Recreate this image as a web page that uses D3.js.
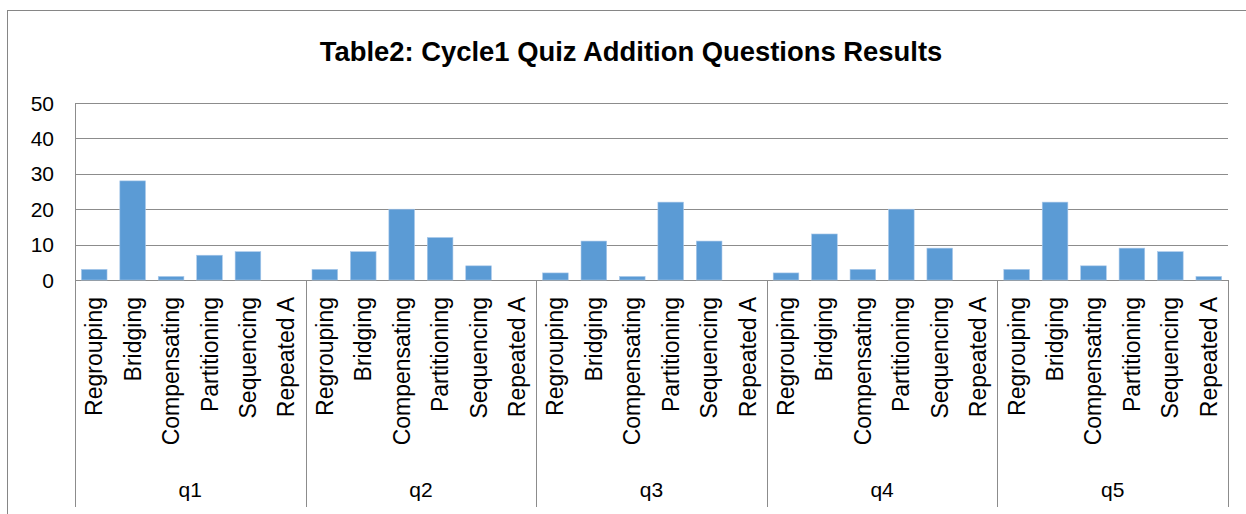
<!DOCTYPE html>
<html>
<head>
<meta charset="utf-8">
<script src="https://cdn.jsdelivr.net/npm/d3@7"></script>
<style>
  body { margin: 0; background: #fff; }
  text { font-family: "Liberation Sans", Arial, sans-serif; fill: #000; }
</style>
</head>
<body>
<svg id="chart" width="1246" height="514"></svg>
<script>
var groups = ["q1", "q2", "q3", "q4", "q5"];
var strategies = ["Regrouping", "Bridging", "Compensating", "Partitioning", "Sequencing", "Repeated A"];
var q1 = [3, 28, 1, 7, 8, 0];
var q2 = [3, 8, 20, 12, 4, 0];
var q3 = [2, 11, 1, 22, 11, 0];
var q4 = [2, 13, 3, 20, 9, 0];
var q5 = [3, 22, 4, 9, 8, 1];
var yTicks = [0, 10, 20, 30, 40, 50];
var title = "Table2: Cycle1 Quiz Addition Questions Results";

var series = [q1, q2, q3, q4, q5];
var rows = [];
groups.forEach(function (g, gi) {
    strategies.forEach(function (s, si) {
        rows.push({ key: g + "|" + s, group: g, name: s, value: series[gi][si] });
    });
});

var svg = d3.select("#chart");
var pLeft = 75, pRight = 1228, pTop = 103, pBottom = 280, axisBottom = 507;

// outer border
svg.append("rect")
    .attr("x", 7.5).attr("y", 10.5)
    .attr("width", 1260).attr("height", 520)
    .attr("fill", "none").attr("stroke", "#868686").attr("stroke-width", 1);

svg.append("text")
    .attr("x", 631).attr("y", 61)
    .attr("text-anchor", "middle")
    .style("font-size", "27.4px").style("font-weight", "bold")
    .text(title);

var x = d3.scaleBand().domain(rows.map(function (d) { return d.key; }))
    .range([pLeft, pRight]).paddingInner(0.333).paddingOuter(0.1665);
var xg = d3.scaleBand().domain(groups).range([pLeft, pRight]);
var y = d3.scaleLinear().domain([0, 50]).range([pBottom, pTop]);

// gridlines
svg.append("g").selectAll("line").data(yTicks).join("line")
    .attr("x1", pLeft).attr("x2", pRight)
    .attr("y1", function (d) { return Math.round(y(d)) + 0.5; })
    .attr("y2", function (d) { return Math.round(y(d)) + 0.5; })
    .attr("stroke", "#8c8c8c").attr("stroke-width", 1);

// y axis line
svg.append("line").attr("x1", pLeft + 0.5).attr("x2", pLeft + 0.5)
    .attr("y1", pTop).attr("y2", pBottom)
    .attr("stroke", "#8c8c8c");

svg.append("g").selectAll("text").data(yTicks).join("text")
    .attr("x", 54).attr("y", function (d) { return y(d) + 7.5; })
    .attr("text-anchor", "end")
    .style("font-size", "21px")
    .text(function (d) { return d; });

// bars
svg.append("g").selectAll("rect").data(rows).join("rect")
    .attr("x", function (d) { return x(d.key); })
    .attr("y", function (d) { return y(d.value); })
    .attr("width", x.bandwidth())
    .attr("height", function (d) { return pBottom - y(d.value); })
    .attr("fill", "#5b9bd5")
    .attr("stroke", "#a9c8ea").attr("stroke-width", 0.6);

// category group separators
var seps = groups.map(function (g) { return xg(g); }).concat([pRight]);
svg.append("g").selectAll("line").data(seps).join("line")
    .attr("x1", function (d) { return Math.round(d) + 0.5; })
    .attr("x2", function (d) { return Math.round(d) + 0.5; })
    .attr("y1", pBottom).attr("y2", axisBottom)
    .attr("stroke", "#8c8c8c");

// rotated category labels
svg.append("g").selectAll("text").data(rows).join("text")
    .attr("transform", function (d) {
        return "translate(" + (x(d.key) + x.bandwidth() / 2 + 8) + "," + 297 + ") rotate(-90)";
    })
    .attr("text-anchor", "end")
    .style("font-size", "23px")
    .text(function (d) { return d.name; });

// group labels
svg.append("g").selectAll("text").data(groups).join("text")
    .attr("x", function (g) { return xg(g) + xg.bandwidth() / 2; })
    .attr("y", 497)
    .attr("text-anchor", "middle")
    .style("font-size", "21px")
    .text(function (g) { return g; });
</script>
</body>
</html>
